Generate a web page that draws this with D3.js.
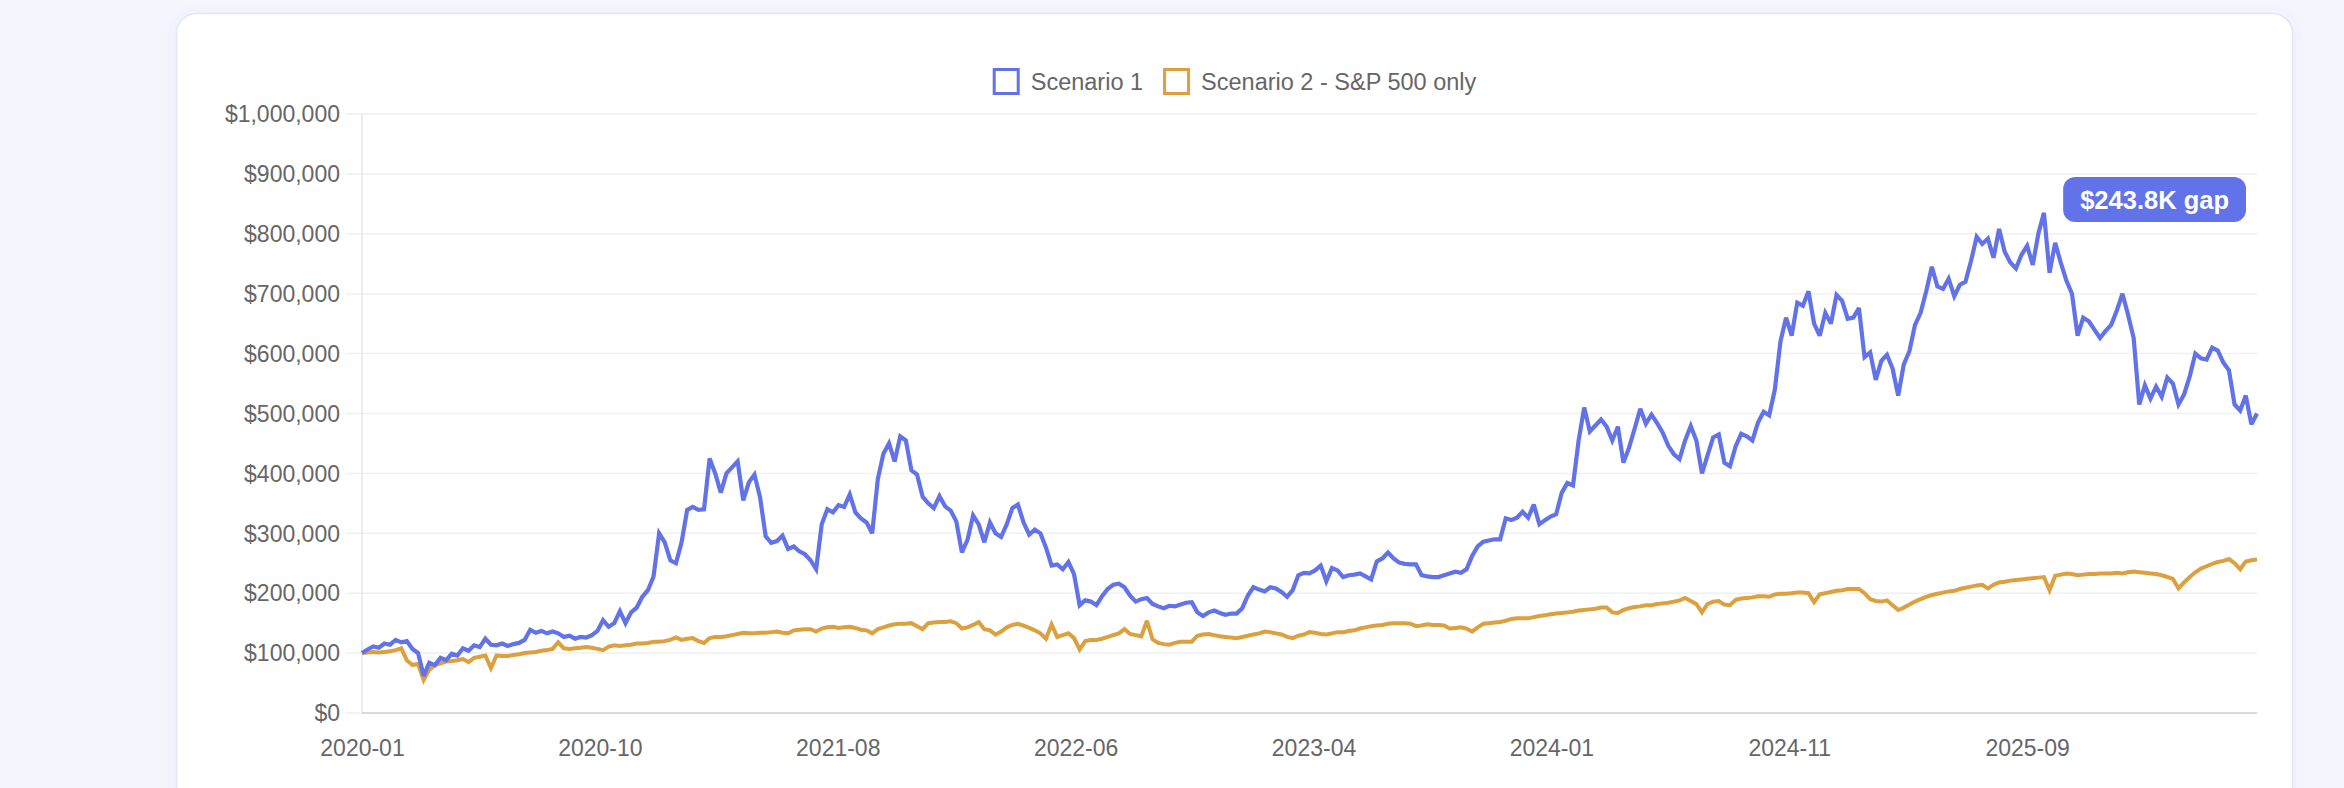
<!DOCTYPE html>
<html><head><meta charset="utf-8">
<script src="https://cdn.jsdelivr.net/npm/d3@7"></script>
<style>
html,body{margin:0;padding:0;background:#f4f5fd;overflow:hidden;}
svg{display:block;}
text{font-family:"Liberation Sans",Arial,Helvetica,sans-serif;}
</style></head><body>
<svg id="chart" width="2344" height="788"></svg>
<script>
// ---------- data (values in thousands of USD, one sample every 7 days) ----------
const startDate = "2020-01-01";
const stepDays = 7;
const seriesNames = ["Scenario 1", "Scenario 2 - S&P 500 only"];
const seriesColors = ["#6273ea", "#dca03e"];

const scenario1K = [
100,106,111,109,116,114,122,118,120,107,
100,62,84,80,92,88,99,96,108,104,
113,110,124,114,113,116,112,115,117,122,
139,134,137,133,136,133,127,129,124,127,
126,130,137,155,144,150,170,150,168,176,
194,205,228,300,285,255,250,285,339,344,
339,340,425,400,368,400,410,420,355,385,
398,360,295,284,287,296,274,278,270,265,
255,240,315,340,335,347,344,365,335,325,
318,300,390,433,450,420,462,455,405,398,
361,350,342,362,345,338,320,268,289,330,
315,285,318,300,294,315,342,348,318,298,
306,300,276,246,248,240,252,232,180,188,
186,180,195,207,214,216,210,196,186,190,
192,182,178,175,179,178,181,184,185,168,
162,168,171,167,164,166,166,175,196,210,
206,203,210,208,202,194,205,230,234,233,
238,246,220,242,238,227,230,231,233,228,
223,253,258,268,258,251,249,248,248,230,
228,227,227,230,233,236,234,240,262,278,
286,288,290,290,325,322,326,336,326,348,
315,322,328,332,368,384,380,455,510,470,
480,490,478,455,478,418,443,475,508,483,
498,484,468,446,432,424,455,479,455,400,
430,460,465,418,412,445,466,462,455,485,
503,497,540,620,660,630,685,680,704,650,
630,668,650,698,688,658,660,676,594,602,
556,588,598,575,530,582,604,648,668,704,
745,712,708,725,696,715,720,755,795,783,
792,760,808,770,752,742,765,780,748,800,
835,735,785,752,722,700,630,660,654,640,
626,638,648,672,700,665,626,515,547,525,
545,528,560,550,515,532,562,600,592,590,
610,605,585,572,515,505,530,482,500
];

const scenario2K = [
100,101,102,101,102,103,105,108,88,80,
82,55,72,80,83,86,87,88,90,85,
92,94,96,75,96,95,95,97,98,100,
101,102,104,105,107,118,108,107,108,109,
110,109,107,105,111,113,112,113,114,116,
116,117,119,119,120,122,126,122,124,125,
120,117,125,127,127,128,130,132,134,133,
133,134,134,135,136,134,133,138,139,140,
140,136,141,143,144,142,143,144,142,139,
138,133,140,143,146,148,149,149,150,145,
140,150,151,152,152,153,150,141,143,147,
152,140,138,131,136,143,147,149,146,142,
138,133,124,148,127,130,133,125,106,120,
122,122,124,127,130,133,140,132,130,128,
154,123,117,115,114,117,119,119,119,129,
131,132,130,128,127,126,125,127,129,131,
133,136,135,133,131,127,125,129,131,135,
134,132,131,133,135,135,137,138,141,143,
145,146,147,149,150,150,150,149,145,146,
148,147,147,146,141,142,143,141,136,143,
149,150,151,152,154,157,158,158,158,160,
162,163,165,166,167,168,169,171,172,173,
174,176,176,168,167,172,175,177,178,180,
180,182,183,184,186,188,192,187,182,168,
182,186,187,181,180,189,191,192,193,195,
195,194,198,199,199,200,201,201,200,185,
198,200,202,204,205,207,207,207,200,190,
187,186,188,180,172,176,181,186,190,194,
197,199,201,203,204,207,209,211,213,214,
208,214,218,219,221,222,223,224,225,226,
227,205,229,231,233,232,230,231,232,232,
233,233,233,234,233,235,236,235,234,233,
232,230,227,224,208,218,227,235,241,245,
249,252,254,257,250,240,253,255,256.2
];

const yTicks = [0,100000,200000,300000,400000,500000,600000,700000,800000,900000,1000000];
const xTickDates = ["2020-01-01","2020-10-24","2021-08-17","2022-06-10","2023-04-03","2024-01-25","2024-11-17","2025-09-10"];
const xTickLabels = ["2020-01","2020-10","2021-08","2022-06","2023-04","2024-01","2024-11","2025-09"];

// ---------- build ----------
const plot = {left: 362, right: 2257, top: 114, bottom: 713};
const parse = d3.utcParse("%Y-%m-%d");
const t0 = parse(startDate);
function toSeries(arr){ return arr.map((v,i)=>({date: d3.utcDay.offset(t0, i*stepDays), value: v*1000})); }
const s1 = toSeries(scenario1K), s2 = toSeries(scenario2K);

const x = d3.scaleUtc().domain([s1[0].date, s1[s1.length-1].date]).range([plot.left, plot.right]);
const y = d3.scaleLinear().domain([0, 1000000]).range([plot.bottom, plot.top]);

const svg = d3.select("#chart");
const defs = svg.append("defs");
const f = defs.append("filter").attr("id","sh").attr("x","-5%").attr("y","-5%").attr("width","110%").attr("height","120%");
f.append("feDropShadow").attr("dx",0).attr("dy",2).attr("stdDeviation",6).attr("flood-color","#6a6fb8").attr("flood-opacity",0.08);

// card
svg.append("rect").attr("x",176.5).attr("y",13.5).attr("width",2116).attr("height",820)
  .attr("rx",20).attr("fill","#ffffff").attr("stroke","#e3e6f4").attr("stroke-width",1.5).attr("filter","url(#sh)");

// grid
const g = svg.append("g");
g.selectAll("line.grid").data(yTicks).join("line")
  .attr("x1", plot.left-16).attr("x2", plot.right)
  .attr("y1", d=>y(d)).attr("y2", d=>y(d))
  .attr("stroke","#edf0f4").attr("stroke-width",1.5);
g.append("line").attr("x1",plot.left).attr("x2",plot.left).attr("y1",plot.top).attr("y2",plot.bottom+1)
  .attr("stroke","#e3e6ea").attr("stroke-width",1.5);
g.append("line").attr("x1",plot.left).attr("x2",plot.right).attr("y1",plot.bottom).attr("y2",plot.bottom)
  .attr("stroke","#d6dade").attr("stroke-width",2);

// y labels
const fmt = d3.format(",");
g.selectAll("text.ylab").data(yTicks).join("text")
  .attr("x", 340).attr("y", d=>y(d)).attr("dy","0.36em")
  .attr("text-anchor","end").attr("font-size",23).attr("fill","#666666")
  .text(d=>"$"+fmt(d));

// x labels (axis)
const xAxis = d3.axisBottom(x).tickValues(xTickDates.map(parse))
  .tickFormat((d,i)=>xTickLabels[i]).tickSize(0).tickPadding(0);
const xa = svg.append("g").attr("transform",`translate(0,${plot.bottom})`).call(xAxis);
xa.select(".domain").remove();
xa.selectAll("text").attr("font-size",23).attr("fill","#666666")
  .attr("font-family",'"Liberation Sans",Arial,sans-serif').attr("dy",null).attr("y",43);

// lines (first dataset drawn on top)
const line = d3.line().x(d=>x(d.date)).y(d=>y(d.value));
svg.append("path").datum(s2).attr("d",line).attr("fill","none")
  .attr("stroke",seriesColors[1]).attr("stroke-width",4).attr("stroke-linejoin","miter").attr("stroke-miterlimit",3);
svg.append("path").datum(s1).attr("d",line).attr("fill","none")
  .attr("stroke",seriesColors[0]).attr("stroke-width",4.2).attr("stroke-linejoin","miter").attr("stroke-miterlimit",3);

// legend
const lg = svg.append("g");
const items = seriesNames.map((n,i)=>({name:n,color:seriesColors[i]}));
const parts = [];
items.forEach(it=>{
  const gi = lg.append("g");
  gi.append("rect").attr("x",1.5).attr("y",-12).attr("width",24).attr("height",24)
    .attr("fill","#ffffff").attr("stroke",it.color).attr("stroke-width",3);
  const t = gi.append("text").attr("x",38).attr("y",0).attr("dy","0.36em")
    .attr("font-size",23.5).attr("fill","#666666").text(it.name);
  const w = 38 + t.node().getComputedTextLength();
  parts.push({gi, w});
});
const gap = 20;
const total = d3.sum(parts, p=>p.w) + gap*(parts.length-1);
let sx = (176 + 2293)/2 - total/2;
parts.forEach(p=>{ p.gi.attr("transform",`translate(${sx},81.5)`); sx += p.w + gap; });

// gap badge (difference of the last values)
const gapK = scenario1K[scenario1K.length-1] - scenario2K[scenario2K.length-1];
const badgeText = "$" + gapK.toFixed(1) + "K gap";
const bg = svg.append("g");
const bt = bg.append("text").attr("font-size",25.5).attr("font-weight","bold").attr("fill","#ffffff")
  .attr("text-anchor","middle").text(badgeText);
const tw = bt.node().getComputedTextLength();
const bw = tw + 34, bh = 45;
const bx = plot.right - 11 - bw, by = 177;
bg.insert("rect","text").attr("x",bx).attr("y",by).attr("width",bw).attr("height",bh)
  .attr("rx",12).attr("fill",seriesColors[0]);
bt.attr("x", bx + bw/2).attr("y", by + bh/2).attr("dy","0.36em");
</script>
</body></html>
